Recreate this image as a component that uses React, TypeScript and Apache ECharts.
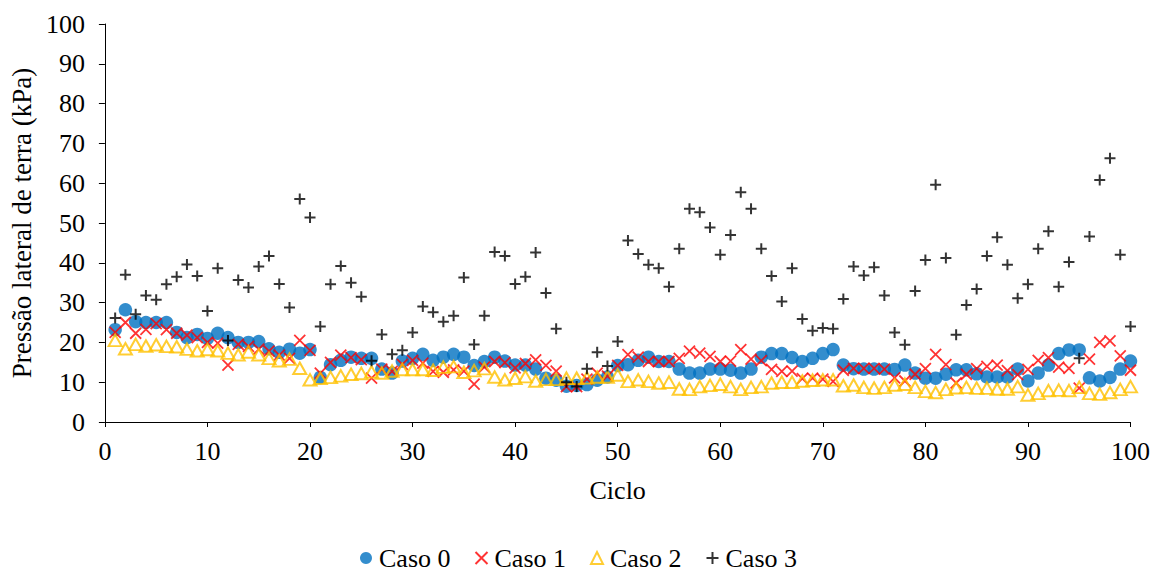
import React, { useEffect, useRef } from "react";
import * as echarts from "echarts";

const cycles: number[] = Array.from({ length: 100 }, (_, i) => i + 1);

const caso0: number[] = [
  23.2, 28.2, 25.2, 25, 25, 25, 22.5, 21.2, 22, 21, 22.3, 21.2, 20, 20, 20.2, 18.4, 17.5, 18.3, 17.3, 18.2,
  11.2, 14.4, 15.5, 16.3, 16, 16, 13.3, 12.3, 15.3, 16, 17, 15.5, 16.3, 17, 16.3, 14.2, 15.2, 16.3, 15.3, 14.3,
  14.3, 13.3, 11, 10.5, 9, 9.2, 9.4, 10.5, 11.3, 14.2, 14.4, 15.5, 16.3, 15.2, 15.2, 13.3, 12.3, 12.3, 13.3, 13.3,
  13, 12.3, 13.3, 16.3, 17.2, 17.2, 16.2, 15.2, 16, 17.2, 18.2, 14.3, 13.4, 13.3, 13.3, 13.3, 13.2, 14.3, 12.3, 11,
  11, 12, 13.1, 13.1, 12.1, 11.3, 11.3, 11.3, 13.3, 10.3, 12.3, 14.3, 17.2, 18.1, 18.1, 11.1, 10.3, 11.2, 13.3, 15.3,
];

const caso1: number[] = [
  22.5, 25, 22.3, 23.3, 24.7, 23.2, 22.3, 21.8, 21.2, 20, 19.8, 14.3, 19.5, 19, 18.3, 17.8, 16.8, 16, 20.5, 18,
  12.3, 15, 16.8, 16.2, 15.7, 11, 13.3, 12.7, 14.5, 15.5, 14.8, 12.7, 12.5, 13.1, 12.8, 9.5, 13.8, 15.2, 14.9, 13.6,
  14.7, 15.6, 14.2, 12.8, 8.9, 8.9, 10.8, 12.3, 11.5, 14.2, 16.9, 16.3, 15.2, 15.2, 15.2, 16, 17.8, 17.3, 16.5, 15.2,
  15.3, 18.2, 15.8, 15.4, 13.2, 12.7, 12.8, 10.9, 11, 10.8, 10.2, 13, 13.5, 13.5, 13.5, 13.3, 11.1, 10.3, 12, 13.4,
  17, 14.4, 9.8, 12, 13.4, 14, 14.3, 12.9, 11.9, 13.2, 15.5, 16.2, 13.8, 13.5, 8.5, 15.8, 20, 20.4, 16.6, 13,
];

const caso2: number[] = [
  20.5, 18.4, 19.5, 19.1, 19.4, 19, 18.9, 18.3, 17.9, 18.2, 17.9, 17.3, 16.9, 17.6, 16.9, 16, 15.4, 15.8, 13.5, 10.6,
  11, 11.2, 11.6, 12, 12.2, 12.6, 12.3, 12.8, 13.2, 13.2, 13.2, 13, 13.8, 13.9, 12.5, 12.9, 13.4, 11.3, 10.6, 11,
  11.4, 10.3, 10.7, 10.7, 11, 11, 11.1, 11.3, 11.3, 11.8, 10.2, 10.6, 10.2, 9.8, 10, 8.3, 8.2, 8.9, 9.2, 9.5,
  8.9, 8.2, 8.7, 8.9, 9.8, 10, 10, 10.3, 10.5, 10.6, 10.6, 9.1, 9.3, 8.7, 8.5, 8.7, 9.3, 9.5, 8.7, 7.7,
  7.4, 8.2, 8.6, 8.7, 8.5, 8.5, 8.3, 8.3, 8.9, 6.8, 7.2, 7.9, 8, 7.9, 8.7, 7.2, 7, 7.4, 8.2, 8.9,
];

const caso3: number[] = [
  26.1, 37, 27.1, 31.8, 30.7, 34.6, 36.5, 39.6, 36.7, 27.9, 38.6, 20.5, 35.7, 33.8, 39.1, 41.7, 34.7, 28.8, 56, 51.4,
  24, 34.6, 39.2, 35, 31.5, 15.4, 22, 17, 18, 22.5, 29, 27.6, 25.2, 26.7, 36.3, 19.5, 26.7, 42.7, 41.7, 34.7,
  36.5, 42.6, 32.4, 23.4, 10, 8.9, 13.4, 17.5, 14.1, 20.2, 45.6, 42.2, 39.5, 38.6, 34, 43.5, 53.6, 52.7, 48.9, 42,
  47, 57.7, 53.6, 43.5, 36.7, 30.3, 38.6, 25.9, 22.9, 23.6, 23.4, 30.9, 39.1, 36.8, 38.9, 31.8, 22.5, 19.4, 32.9, 40.7,
  59.6, 41.2, 21.9, 29.4, 33.4, 41.7, 46.4, 39.5, 31.1, 34.6, 43.5, 47.9, 34, 40.2, 16, 46.6, 60.8, 66.3, 42, 24,
];

const seriesNames = ["Caso 0", "Caso 1", "Caso 2", "Caso 3"];
const xTicks = { min: 0, max: 100, interval: 10 };
const yTicks = { min: 0, max: 100, interval: 10 };

const FONT = "Liberation Serif";
const FS = 26;

const CROSS = "path://M0,0L10,10M10,0L0,10";
const PLUS = "path://M5,0L5,10M0,5L10,5";

function pairs(vals: number[]) {
  return vals.map((v, i) => [cycles[i], v]);
}

export default function App() {
  const ref = useRef<HTMLDivElement>(null);
  useEffect(() => {
    if (!ref.current) return;
    const chart = echarts.init(ref.current, undefined, { renderer: "svg" });
    chart.setOption({
      animation: false,
      backgroundColor: "#ffffff",
      textStyle: { fontFamily: FONT },
      grid: { left: 104, top: 24, width: 1029, height: 398 },
      legend: {
        data: seriesNames,
        top: 540,
        left: 355,
        padding: 5,
        itemGap: 24,
        itemWidth: 12,
        itemHeight: 12,
        textStyle: { fontFamily: FONT, fontSize: FS, color: "#000", padding: [0, 0, 0, 2] },
      },
      xAxis: {
        type: "value",
        ...xTicks,
        name: "Ciclo",
        nameLocation: "middle",
        nameGap: 55,
        nameTextStyle: { fontFamily: FONT, fontSize: FS, color: "#000" },
        axisLine: { show: true, lineStyle: { color: "#000", width: 1 } },
        axisTick: { show: true, length: 5, lineStyle: { color: "#000" } },
        axisLabel: { fontFamily: FONT, fontSize: FS, color: "#000", margin: 16 },
        splitLine: { show: false },
      },
      yAxis: {
        type: "value",
        ...yTicks,
        name: "Pressão lateral de terra (kPa)",
        nameLocation: "middle",
        nameRotate: 90,
        nameGap: 66,
        nameTextStyle: { fontFamily: FONT, fontSize: 27, color: "#000" },
        axisLine: { show: true, lineStyle: { color: "#000", width: 1 } },
        axisTick: { show: true, length: 6, lineStyle: { color: "#000" } },
        axisLabel: { fontFamily: FONT, fontSize: FS, color: "#000", margin: 20 },
        splitLine: { show: false },
      },
      series: [
        {
          name: seriesNames[0],
          type: "scatter",
          data: pairs(caso0),
          symbol: "circle",
          symbolSize: 13.5,
          itemStyle: { color: "#0070C0" },
        },
        {
          name: seriesNames[1],
          type: "scatter",
          data: pairs(caso1),
          symbol: CROSS,
          symbolSize: 11,
          itemStyle: { color: "transparent", borderColor: "#FF0000", borderWidth: 1.8 },
        },
        {
          name: seriesNames[2],
          type: "scatter",
          data: pairs(caso2),
          symbol: "triangle",
          symbolSize: [13, 11.5],
          itemStyle: { color: "transparent", borderColor: "#FFC000", borderWidth: 2 },
        },
        {
          name: seriesNames[3],
          type: "scatter",
          data: pairs(caso3),
          symbol: PLUS,
          symbolSize: 11,
          itemStyle: { color: "transparent", borderColor: "#000000", borderWidth: 2 },
        },
      ],
    });
    return () => chart.dispose();
  }, []);
  return (
    <div
      ref={ref}
      style={{ position: "fixed", left: 0, top: 0, width: 1153, height: 571, background: "#fff" }}
    />
  );
}
